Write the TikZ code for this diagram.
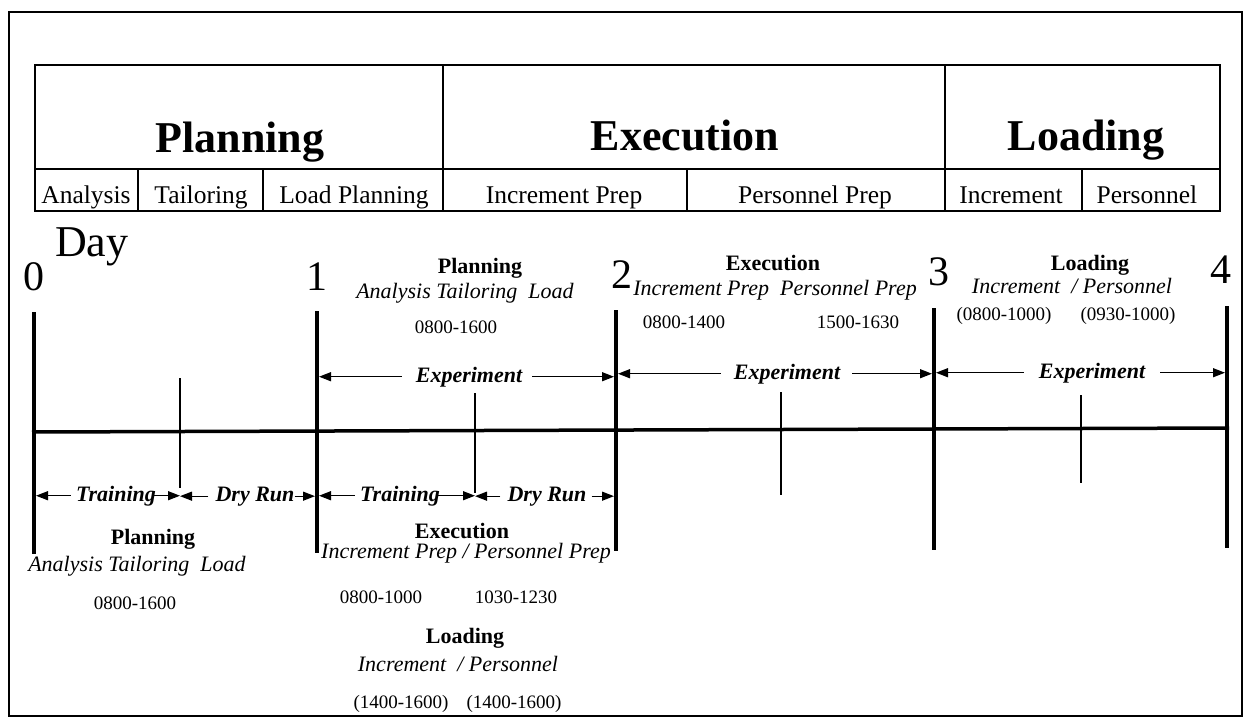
\documentclass[tikz,border=0pt]{standalone}
\usepackage{fontspec}
\setmainfont{Liberation Serif}
\usetikzlibrary{arrows.meta}
\begin{document}
\begin{tikzpicture}[x=1pt,y=-1pt,
  txt/.style={inner sep=0pt, anchor=base},
  hdr/.style={txt, font=\fontsize{44}{48}\selectfont\bfseries},
  cell/.style={txt, font=\fontsize{25.5}{28}\selectfont},
  daynum/.style={txt, font=\fontsize{42}{46}\selectfont},
  daytxt/.style={txt, anchor=base west, font=\fontsize{44}{48}\selectfont},
  lbl/.style={txt, font=\fontsize{22}{24}\selectfont\bfseries},
  sublbl/.style={txt, font=\fontsize{22}{24}\selectfont\itshape},
  tm/.style={txt, font=\fontsize{19}{21}\selectfont},
  spanlbl/.style={txt, font=\fontsize{22}{24}\selectfont\bfseries\itshape},
  frameline/.style={line width=1.8pt},
  gridline/.style={line width=1.6pt},
  dayline/.style={line width=4.5pt},
  axisline/.style={line width=3.5pt},
  tickline/.style={line width=1.3pt},
  arr/.style={line width=1.3pt, -{Triangle[length=12pt,width=9pt]}},
  arrd/.style={arr, shorten >=2pt},
]
\useasboundingbox (0,0) rectangle (1249,721);
\fill[white] (0,0) rectangle (1249,721);

% outer frame
\draw[frameline] (9,12) rectangle (1242,716);

% table
\draw[gridline] (35,65) rectangle (1220,211);
\draw[gridline] (35,169) -- (1220,169);
\draw[gridline] (443,65) -- (443,211);
\draw[gridline] (945,65) -- (945,211);
\draw[gridline] (138,169) -- (138,211);
\draw[gridline] (263,169) -- (263,211);
\draw[gridline] (687,169) -- (687,211);
\draw[gridline] (1082,169) -- (1082,211);

\node[hdr] (hplan) at (240,152) {Planning};
\node[hdr] (hexec) at (685,150) {Execution};
\node[hdr] (hload) at (1086,150) {Loading};

\node[cell] (canal) at (86,203) {Analysis};
\node[cell] (ctail) at (201,203) {Tailoring};
\node[cell] (cload) at (354,203) {Load Planning};
\node[cell] (cinc) at (564,203) {Increment Prep};
\node[cell] (cper) at (815,203) {Personnel Prep};
\node[cell] (linc) at (1011,203) {Increment};
\node[cell] (lper) at (1147,203) {Personnel};

% day labels
\node[daytxt] (day) at (55,256) {Day};
\node[daynum] (n0) at (34,290) {0};
\node[daynum] (n1) at (317,290) {1};
\node[daynum] (n2) at (622,288) {2};
\node[daynum] (n3) at (939,285) {3};
\node[daynum] (n4) at (1221,283) {4};

% day lines
\coordinate (d0t) at (34,312);  \coordinate (d0b) at (34,554);
\coordinate (d1t) at (317,311); \coordinate (d1b) at (317,553);
\coordinate (d2t) at (616,310); \coordinate (d2b) at (616,551);
\coordinate (d3t) at (934,308); \coordinate (d3b) at (934,550);
\coordinate (d4t) at (1227,306);\coordinate (d4b) at (1227,548);
\foreach \i in {0,...,4} {\draw[dayline] (d\i t) -- (d\i b);}

% axis
\coordinate (ax0) at (32,432);
\coordinate (ax4) at (1229,428);
\draw[axisline] (ax0) -- (ax4);

% minor ticks
\coordinate (m1t) at (180,378);  \coordinate (m1b) at (180,488);
\coordinate (m2t) at (475,393);  \coordinate (m2b) at (475,493);
\coordinate (m3t) at (781,392);  \coordinate (m3b) at (781,495);
\coordinate (m4t) at (1081,395); \coordinate (m4b) at (1081,483);
\foreach \i in {1,...,4} {\draw[tickline] (m\i t) -- (m\i b);}

% segment 1-2 top
\node[lbl] (p12) at (480,273) {Planning};
\node[sublbl] (s12) at (465,298) {Analysis Tailoring~~Load};
\node[tm] (t12) at (456,333) {0800-1600};
\node[spanlbl] (e1) at (469,382) {Experiment};
\draw[arrd] ([xshift=-14pt]e1.west) -- (e1.west -| d1t);
\draw[arrd] ([xshift=10pt]e1.east) -- (e1.east -| d2t);

% segment 2-3 top
\node[lbl] (p23) at (773,270) {Execution};
\node[sublbl] (s23) at (775,295) {Increment Prep~~Personnel Prep};
\node[tm] (t23a) at (684,328) {0800-1400};
\node[tm] (t23b) at (858,328) {1500-1630};
\node[spanlbl] (e2) at (787,379) {Experiment};
\draw[arrd] ([xshift=-13pt]e2.west) -- (e2.west -| d2t);
\draw[arrd] ([xshift=12pt]e2.east) -- (e2.east -| d3t);

% segment 3-4 top
\node[lbl] (p34) at (1090,270) {Loading};
\node[sublbl] (s34) at (1072,293) {Increment~~/ Personnel};
\node[tm] (t34a) at (1004,320) {(0800-1000)};
\node[tm] (t34b) at (1128,320) {(0930-1000)};
\node[spanlbl] (e3) at (1092,378) {Experiment};
\draw[arrd] ([xshift=-15pt]e3.west) -- (e3.west -| d3t);
\draw[arrd] ([xshift=15pt]e3.east) -- (e3.east -| d4t);

% training / dry run row
\node[spanlbl] (tr1) at (116,501) {Training};
\node[spanlbl] (dr1) at (255,501) {Dry Run};
\node[spanlbl] (tr2) at (400,501) {Training};
\node[spanlbl] (dr2) at (547,501) {Dry Run};
\draw[arrd] ([xshift=-5pt]tr1.west) -- (tr1.west -| d0t);
\draw[arr] ([xshift=-3pt]tr1.east) -- (tr1.east -| m1t);
\draw[arr] ([xshift=-7pt]dr1.west) -- (dr1.west -| m1t);
\draw[arrd] ([xshift=0pt]dr1.east) -- (dr1.east -| d1t);
\draw[arrd] ([xshift=-5pt]tr2.west) -- (tr2.west -| d1t);
\draw[arr] ([xshift=-3pt]tr2.east) -- (tr2.east -| m2t);
\draw[arr] ([xshift=-7pt]dr2.west) -- (dr2.west -| m2t);
\draw[arrd] ([xshift=5pt]dr2.east) -- (dr2.east -| d2t);

% segment 0-1 bottom
\node[lbl] (p01) at (153,544) {Planning};
\node[sublbl] (s01) at (137,571) {Analysis Tailoring~~Load};
\node[tm] (t01) at (135,609) {0800-1600};

% segment 1-2 bottom
\node[lbl] (x12) at (462,538) {Execution};
\node[sublbl] (xs12) at (466,558) {Increment Prep / Personnel Prep};
\node[tm] (xt12a) at (381,603) {0800-1000};
\node[tm] (xt12b) at (516,603) {1030-1230};
\node[lbl] (l12) at (465,643) {Loading};
\node[sublbl] (ls12) at (458,671) {Increment~~/ Personnel};
\node[tm] (lt12a) at (401,708) {(1400-1600)};
\node[tm] (lt12b) at (514,708) {(1400-1600)};
\end{tikzpicture}
\end{document}
